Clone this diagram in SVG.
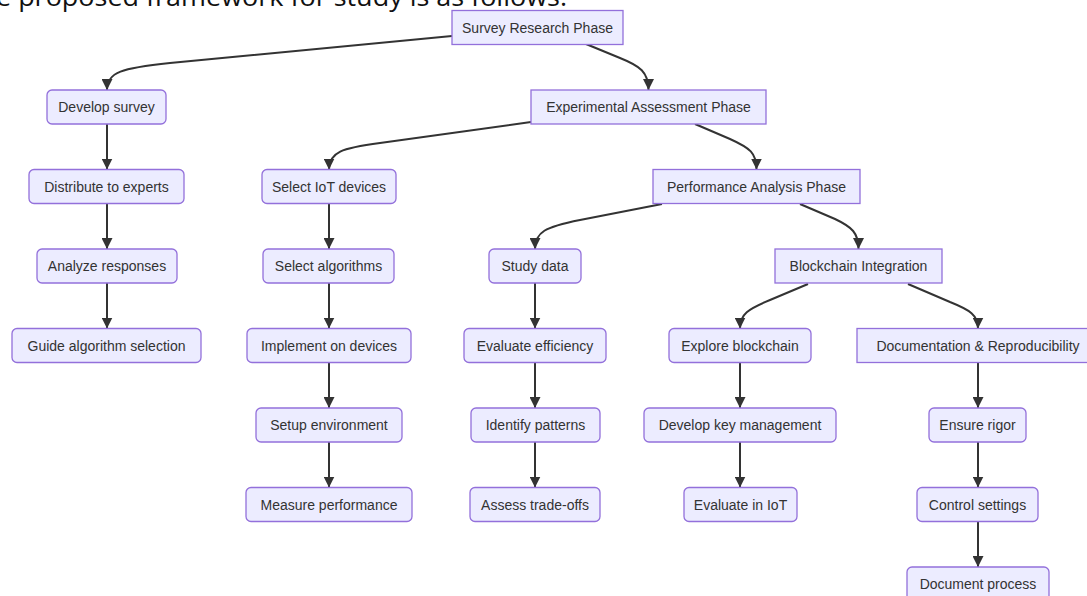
<svg xmlns="http://www.w3.org/2000/svg" width="1087" height="596" viewBox="0 0 1087 596">
<style>
.n rect{fill:#ECECFF;stroke:#9370DB;stroke-width:1.3}
.n text{font-family:"Liberation Sans",Arial,sans-serif;font-size:14px;fill:#333;text-anchor:middle;dominant-baseline:central}
.e path{fill:none;stroke:#333;stroke-width:2;marker-end:url(#arr)}
.cap{font-family:"Open Sans","Liberation Sans",sans-serif;font-size:25px;fill:#111}
</style>
<defs>
<marker id="arr" viewBox="0 0 10 10" refX="10" refY="5" markerWidth="11" markerHeight="11" markerUnits="userSpaceOnUse" orient="auto">
<path d="M0,0 L10,5 L0,10 z" fill="#333"/>
</marker>
</defs>
<rect width="1087" height="596" fill="#fff"/>
<text class="cap" x="-4" y="5.5" textLength="571" lengthAdjust="spacingAndGlyphs">e proposed framework for study is as follows:</text>
<g class="e" id="connectors">
<path d="M452,36 L170,63 C122,68 107,72 107,90"/>
<path d="M586,44 L620,58 C640,66 648.5,72 648.5,90"/>
<path d="M531,122 L380,143 C342,148 329,152 329,169.5"/>
<path d="M695,124 L730,139 C750,148 756.5,153 756.5,169.5"/>
<path d="M662,204 L580,220 C545,227 535,232 535,249"/>
<path d="M800,204 L835,219 C852,227 858.5,233 858.5,249"/>
<path d="M808,284 L770,300 C748,309 740,314 740,328.5"/>
<path d="M908,284 L950,302 C970,310 978,315 978,328.5"/>
<path d="M107,124 L107,169.5"/>
<path d="M107,203.5 L107,249"/>
<path d="M107,283 L107,328.5"/>
<path d="M329,203.5 L329,249"/>
<path d="M329,283 L329,328.5"/>
<path d="M329,362.5 L329,408"/>
<path d="M329,442 L329,487.5"/>
<path d="M535,283 L535,328.5"/>
<path d="M535,362.5 L535,408"/>
<path d="M535,442 L535,487.5"/>
<path d="M740,362.5 L740,408"/>
<path d="M740,442 L740,487.5"/>
<path d="M978,362.5 L978,408"/>
<path d="M978,442 L978,487.5"/>
<path d="M978,521.5 L978,567"/>
</g>
<g class="n" id="survey"><rect x="452" y="10.5" width="171" height="34"/><text x="537.5" y="27.5">Survey Research Phase</text></g>
<g class="n" id="devsurvey"><rect x="47" y="90" width="119" height="34" rx="5"/><text x="106.5" y="107">Develop survey</text></g>
<g class="n" id="experimental"><rect x="531" y="90" width="235" height="34"/><text x="648.5" y="107">Experimental Assessment Phase</text></g>
<g class="n" id="distribute"><rect x="29" y="169.5" width="155" height="34" rx="5"/><text x="106.5" y="186.5">Distribute to experts</text></g>
<g class="n" id="selectiot"><rect x="262" y="169.5" width="134" height="34" rx="5"/><text x="329" y="186.5">Select IoT devices</text></g>
<g class="n" id="performance"><rect x="653" y="169.5" width="207" height="34"/><text x="756.5" y="186.5">Performance Analysis Phase</text></g>
<g class="n" id="analyze"><rect x="37" y="249" width="140" height="34" rx="5"/><text x="107" y="266">Analyze responses</text></g>
<g class="n" id="selectalg"><rect x="263" y="249" width="131" height="34" rx="5"/><text x="328.5" y="266">Select algorithms</text></g>
<g class="n" id="studydata"><rect x="489" y="249" width="92" height="34" rx="5"/><text x="535" y="266">Study data</text></g>
<g class="n" id="blockchain"><rect x="775" y="249" width="167" height="34"/><text x="858.5" y="266">Blockchain Integration</text></g>
<g class="n" id="guide"><rect x="12" y="328.5" width="189" height="34" rx="5"/><text x="106.5" y="345.5">Guide algorithm selection</text></g>
<g class="n" id="implement"><rect x="247" y="328.5" width="164" height="34" rx="5"/><text x="329" y="345.5">Implement on devices</text></g>
<g class="n" id="evaleff"><rect x="464" y="328.5" width="142" height="34" rx="5"/><text x="535" y="345.5">Evaluate efficiency</text></g>
<g class="n" id="explore"><rect x="669" y="328.5" width="142" height="34" rx="5"/><text x="740" y="345.5">Explore blockchain</text></g>
<g class="n" id="documentation"><rect x="857" y="328.5" width="242" height="34"/><text x="978" y="345.5">Documentation &amp; Reproducibility</text></g>
<g class="n" id="setup"><rect x="256" y="408" width="146" height="34" rx="5"/><text x="329" y="425">Setup environment</text></g>
<g class="n" id="identify"><rect x="471" y="408" width="129" height="34" rx="5"/><text x="535.5" y="425">Identify patterns</text></g>
<g class="n" id="keymgmt"><rect x="644" y="408" width="192" height="34" rx="5"/><text x="740" y="425">Develop key management</text></g>
<g class="n" id="rigor"><rect x="929" y="408" width="97" height="34" rx="5"/><text x="977.5" y="425">Ensure rigor</text></g>
<g class="n" id="measure"><rect x="246" y="487.5" width="166" height="34" rx="5"/><text x="329" y="504.5">Measure performance</text></g>
<g class="n" id="assess"><rect x="470" y="487.5" width="130" height="34" rx="5"/><text x="535" y="504.5">Assess trade-offs</text></g>
<g class="n" id="evaliot"><rect x="684" y="487.5" width="113" height="34" rx="5"/><text x="740.5" y="504.5">Evaluate in IoT</text></g>
<g class="n" id="control"><rect x="917" y="487.5" width="121" height="34" rx="5"/><text x="977.5" y="504.5">Control settings</text></g>
<g class="n" id="docprocess"><rect x="907" y="567" width="142" height="34" rx="5"/><text x="978" y="584">Document process</text></g>
</svg>
